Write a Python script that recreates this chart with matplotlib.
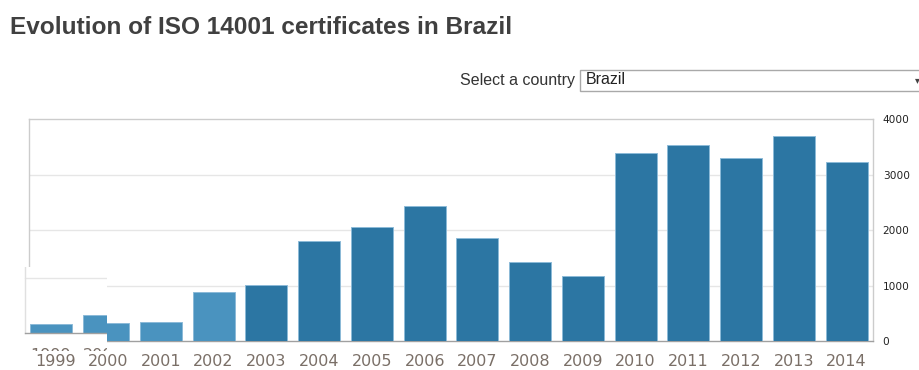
"""
Bar chart of ISO 14001 certificates issued in Brazil, 1999-2014,
with the country selector drawn above the plot.
"""

import matplotlib.pyplot as plt
from matplotlib.patches import Rectangle

years = [1999, 2000, 2001, 2002, 2003, 2004, 2005, 2006,
         2007, 2008, 2009, 2010, 2011, 2012, 2013, 2014]
certificates = [165, 320, 342, 880, 1005, 1800, 2060, 2440,
                1856, 1418, 1177, 3393, 3526, 3303, 3688, 3220]
y_ticks = [0, 1000, 2000, 3000, 4000]

COUNTRY = "Brazil"

W, H = 919, 370
LIGHT_BLUE = "#4a93bf"
DARK_BLUE = "#2c76a3"
LAST_LIGHT_YEAR = 2002

# plot frame in pixels (top-origin)
PX_LEFT, PX_RIGHT, PX_TOP, PX_BOTTOM = 29, 873, 119, 341
Y_MAX = 4000


def fx(px):
    return px / W


def fy(py):
    return 1 - py / H


def bar_colors():
    return [LIGHT_BLUE if y <= LAST_LIGHT_YEAR else DARK_BLUE for y in years]


def draw_bars(ax, xs, vals, colors):
    ax.bar(xs, vals, width=0.8, color=colors, edgecolor="#8cbad8",
           linewidth=0.7, zorder=3)


fig = plt.figure(figsize=(W / 100, H / 100), dpi=100)
fig.patch.set_facecolor("white")

# title + selector
fig.text(fx(10), fy(28), f"Evolution of ISO 14001 certificates in {COUNTRY}",
         fontsize=17.6, fontweight="bold", color="#404040",
         family="Liberation Sans", va="center", ha="left")
fig.text(fx(575), fy(80), "Select a country", fontsize=11.5, color="#333333",
         family="Liberation Sans", va="center", ha="right")
fig.patches.append(Rectangle((fx(580), fy(91)), fx(360), 21 / H,
                             transform=fig.transFigure, facecolor="white",
                             edgecolor="#a9a9a9", linewidth=1))
fig.text(fx(586), fy(80), COUNTRY, fontsize=11.5, color="#222222",
         family="Liberation Sans", va="center", ha="left")
fig.text(fx(917), fy(80), "▾", fontsize=7, color="#444444",
         va="center", ha="center")

# main chart
ax = fig.add_axes([fx(PX_LEFT), fy(PX_BOTTOM),
                   (PX_RIGHT - PX_LEFT) / W, (PX_BOTTOM - PX_TOP) / H])
xs = list(range(len(years)))
draw_bars(ax, xs, certificates, bar_colors())
ax.set_xlim(-0.5, len(years) - 0.5)
ax.set_ylim(0, Y_MAX)
ax.set_xticks(xs)
ax.set_xticklabels([str(y) for y in years], fontsize=11.5, color="#7a6f67")
ax.set_yticks(y_ticks)
ax.set_yticklabels([str(t) for t in y_ticks], fontsize=7.6, color="#222222")
ax.yaxis.tick_right()
ax.tick_params(axis="both", length=0)
ax.tick_params(axis="y", pad=7)
ax.tick_params(axis="x", pad=9)
for t in y_ticks[1:-1]:
    ax.axhline(t, color="#e6e6e6", linewidth=1, zorder=1)
for side in ("top", "left", "right"):
    ax.spines[side].set_color("#cccccc")
    ax.spines[side].set_linewidth(1)
ax.spines["bottom"].set_color("#a0a0a0")
ax.spines["bottom"].set_linewidth(1)

# leftover redraw patch in the lower-left corner: same chart, shifted
BOX_L, BOX_R, BOX_T, BOX_B = 0, 107, 267, 351
SHIFT_X, SHIFT_Y = -4.5, -8
px_per_x = (PX_RIGHT - PX_LEFT) / len(years)
px_per_y = (PX_BOTTOM - PX_TOP) / Y_MAX
x0_px = PX_LEFT + 0.5 * px_per_x + SHIFT_X   # pixel of x = 0
y0_px = PX_BOTTOM + SHIFT_Y                  # pixel of y = 0

inset = fig.add_axes([fx(BOX_L), fy(BOX_B), (BOX_R - BOX_L) / W,
                      (BOX_B - BOX_T) / H], zorder=5)
inset.set_facecolor("white")
inset.set_xlim((BOX_L - x0_px) / px_per_x, (BOX_R - x0_px) / px_per_x)
inset.set_ylim((y0_px - BOX_B) / px_per_y, (y0_px - BOX_T) / px_per_y)
inset.set_xticks([])
inset.set_yticks([])
for s in inset.spines.values():
    s.set_visible(False)
draw_bars(inset, xs[:3], certificates[:3], bar_colors()[:3])
inset.plot([-0.5, 3], [1000, 1000], color="#e6e6e6", linewidth=1, zorder=1)
inset.plot([-0.5, -0.5], [0, 5000], color="#e0e0e0", linewidth=1, zorder=2)
inset.plot([-0.5, 3], [0, 0], color="#a0a0a0", linewidth=1, zorder=4)
label_y = -(363.5 - PX_BOTTOM) / px_per_y
for x, yr in zip(xs[:3], years[:3]):
    inset.text(x, label_y, str(yr), fontsize=11.5, color="#7a6f67",
               ha="center", va="center", clip_on=True)

fig.savefig("out.png", dpi=100)
